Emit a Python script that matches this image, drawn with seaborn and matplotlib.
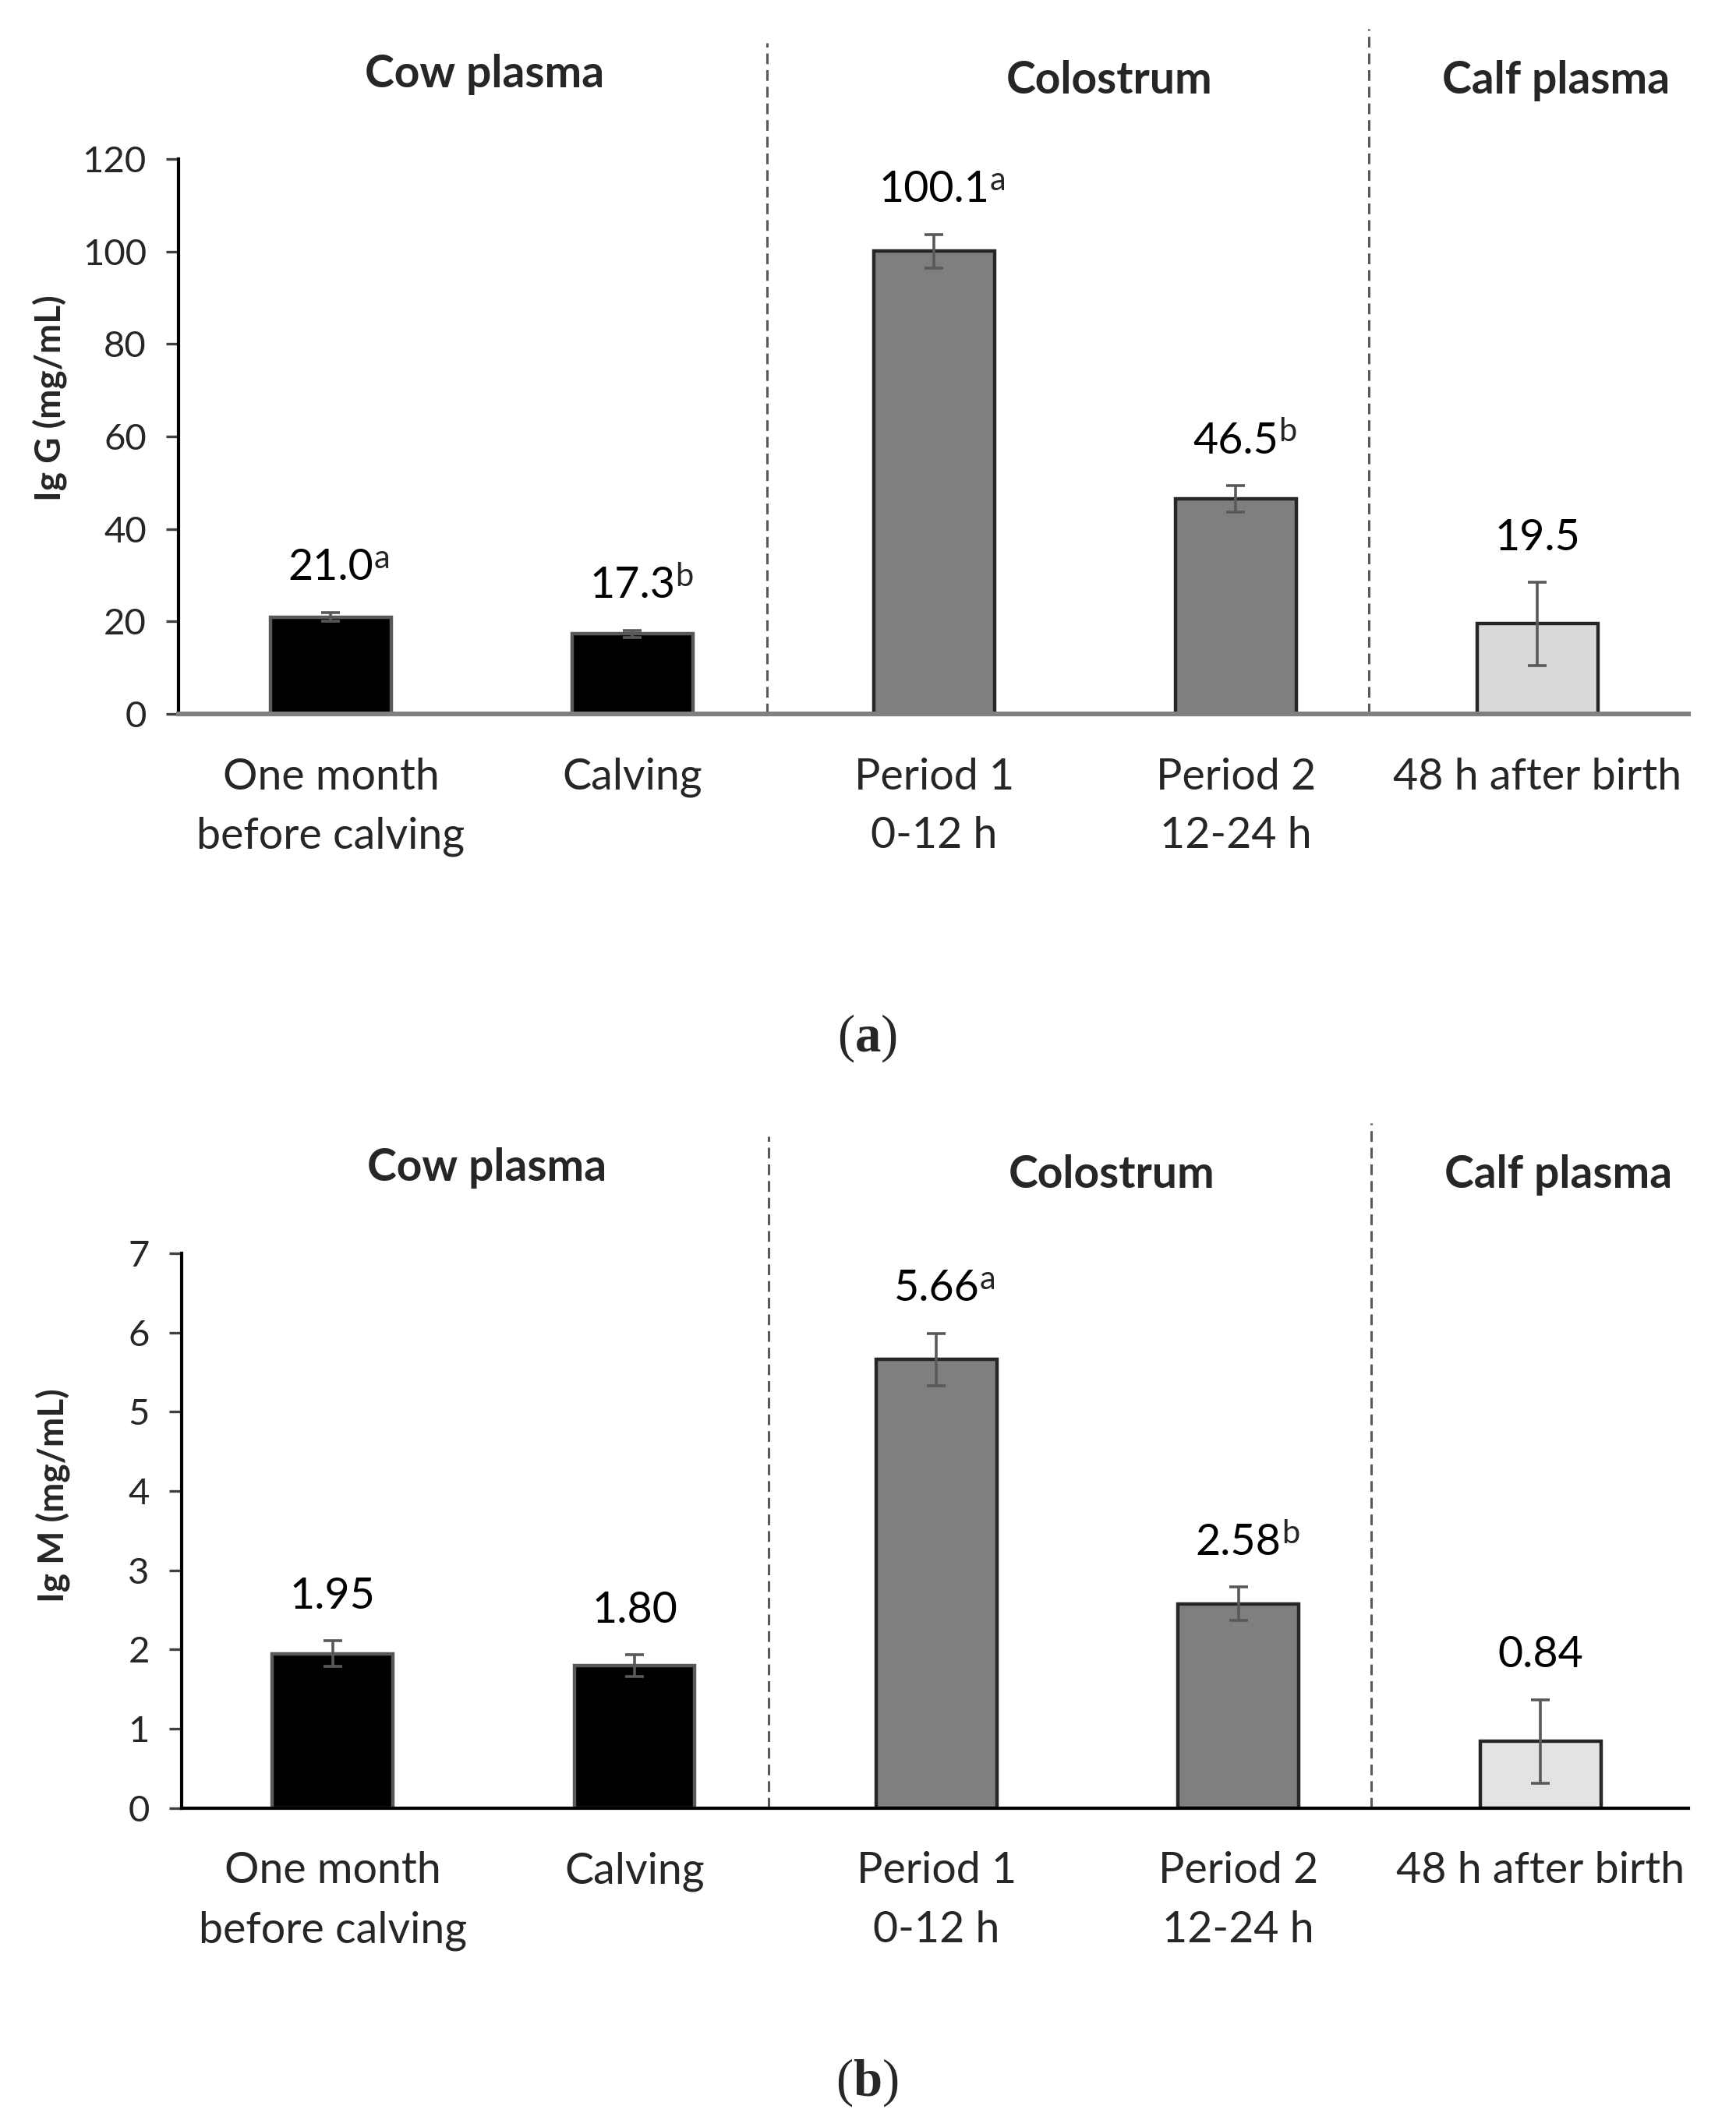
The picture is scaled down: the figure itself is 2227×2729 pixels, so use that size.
import numpy as np
import matplotlib
matplotlib.use("Agg")
import matplotlib.pyplot as plt
import seaborn as sns

categories = ["One month\nbefore calving", "Calving", "Period 1\n0-12 h", "Period 2\n12-24 h", "48 h after birth"]
groups = ["Cow plasma", "Colostrum", "Calf plasma"]

igg_values = [21.0, 17.3, 100.1, 46.5, 19.5]
igg_err = [1.0, 0.8, 3.6, 2.9, 9.0]
igg_labels = ["21.0", "17.3", "100.1", "46.5", "19.5"]
igg_sup = ["a", "b", "a", "b", ""]
igg_ticks = [0, 20, 40, 60, 80, 100, 120]

igm_values = [1.95, 1.80, 5.66, 2.58, 0.84]
igm_err = [0.16, 0.135, 0.33, 0.21, 0.53]
igm_labels = ["1.95", "1.80", "5.66", "2.58", "0.84"]
igm_sup = ["", "", "a", "b", ""]
igm_ticks = [0, 1, 2, 3, 4, 5, 6, 7]

sns.set_style("white")
plt.rcParams['font.family'] = ['Lato', 'DejaVu Sans']
plt.rcParams['mathtext.fontset'] = 'custom'
plt.rcParams['mathtext.rm'] = 'Liberation Serif'
plt.rcParams['mathtext.bf'] = 'Liberation Serif:bold'


def draw_panel(ax, values, err, labels, sups, ticks, ylabel, bar_colors, bottom_color, bottom_lw, ylab_y):
    sns.barplot(x=categories, y=values, hue=categories, palette=bar_colors, legend=False,
                width=0.4, edgecolor="#262626", linewidth=1.6, errorbar=None, ax=ax, zorder=2)
    # black bars get a grey rim like the original
    for p in ax.patches[:2]:
        p.set_edgecolor("#595959")
    ax.errorbar(np.arange(len(values)), values, yerr=err, fmt="none", ecolor="#595959",
                elinewidth=1.3, capsize=4.3, capthick=1.3, zorder=3)

    for i, (v, e, lab, s) in enumerate(zip(values, err, labels, sups)):
        t = ax.annotate(lab, xy=(i, v + e), xytext=(0, 20.5), textcoords="offset points",
                        ha="center", va="center", fontsize=20, color="black")
        if s:
            ax.annotate(s, xy=(1.0, 1.1), xycoords=t, ha="left", va="top", fontsize=15)

    ax.set_ylim(ticks[0], ticks[-1])
    ax.set_yticks(ticks)
    ax.tick_params(axis="y", direction="out", length=5.8, width=1.2, color="#404040",
                   labelsize=17, pad=9, left=True)
    ax.tick_params(axis="x", length=0, labelsize=20, pad=20)
    for lab in ax.get_xticklabels():
        lab.set_linespacing(1.6)
    ax.set_xlabel("")
    ax.set_ylabel(ylabel, fontsize=16.5, fontweight="bold")
    ax.yaxis.set_label_coords(-0.074, ylab_y)

    for side in ["top", "right"]:
        ax.spines[side].set_visible(False)
    ax.spines["left"].set_color("black")
    ax.spines["left"].set_linewidth(1.5)
    ax.spines["bottom"].set_color(bottom_color)
    ax.spines["bottom"].set_linewidth(bottom_lw)

    # group separators
    ax.axvline(1.445, ymin=0, ymax=1.21, clip_on=False, ls=(0, (4.5, 2.5)), color="#595959", lw=1.1, zorder=1)
    ax.axvline(3.44, ymin=0, ymax=1.235, clip_on=False, ls=(0, (4.5, 2.5)), color="#595959", lw=1.1, zorder=1)

    tr = ax.get_xaxis_transform()
    ax.text(0.51, 1.153, groups[0], transform=tr, ha="center", va="center", fontsize=20.5, fontweight="bold")
    ax.text(2.58, 1.141, groups[1], transform=tr, ha="center", va="center", fontsize=20.5, fontweight="bold")
    ax.text(4.06, 1.141, groups[2], transform=tr, ha="center", va="center", fontsize=20.5, fontweight="bold")


fig = plt.figure(figsize=(11.135, 13.645), dpi=200)
ax_a = fig.add_axes([0.1028, 0.6643, 0.8698, 0.2609])
ax_b = fig.add_axes([0.1046, 0.1499, 0.8680, 0.2609])

draw_panel(ax_a, igg_values, igg_err, igg_labels, igg_sup, igg_ticks, "Ig G (mg/mL)",
           ["#000000", "#000000", "#7f7f7f", "#7f7f7f", "#d9d9d9"], "#808080", 2.2, 0.57)
ax_a.set_xlim(-0.505, 4.50)

draw_panel(ax_b, igm_values, igm_err, igm_labels, igm_sup, igm_ticks, "Ig M (mg/mL)",
           ["#000000", "#000000", "#7f7f7f", "#7f7f7f", "#e3e3e3"], "black", 1.5, 0.563)
ax_b.set_xlim(-0.5, 4.49)

fig.text(0.4993, 0.512, r"($\mathbf{a}$)", ha="center", va="center", fontsize=24, family="Liberation Serif")
fig.text(0.4993, 0.021, r"($\mathbf{b}$)", ha="center", va="center", fontsize=24, family="Liberation Serif")

fig.savefig("out.png", dpi=200, facecolor="white")
plt.close(fig)
